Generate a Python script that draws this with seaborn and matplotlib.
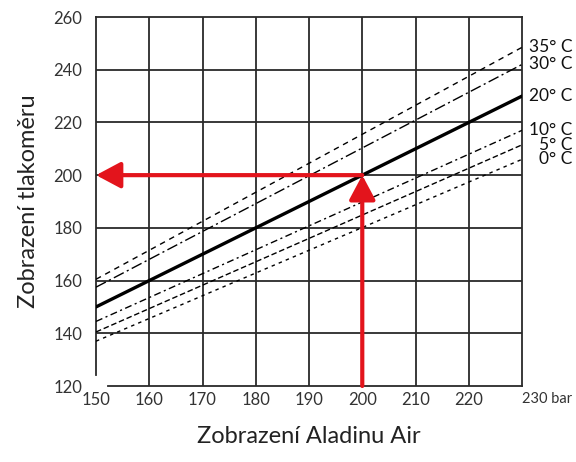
import numpy as np
import pandas as pd
import matplotlib
matplotlib.use("Agg")
import matplotlib.pyplot as plt
import seaborn as sns

# values
aladin = [150, 230]                      # x ends of each line (bar)
temps = ["35° C", "30° C", "20° C", "10° C", "5° C", "0° C"]
gauge_start = [160.5, 157.5, 150, 144.5, 140.5, 137]   # gauge reading at 150 bar
gauge_end = [248.5, 242, 230, 217, 211.5, 206]        # gauge reading at 230 bar
x_ticks = [150, 160, 170, 180, 190, 200, 210, 220, 230]
x_labels = ["150", "160", "170", "180", "190", "200", "210", "220", "230 bar"]
y_ticks = [120, 140, 160, 180, 200, 220, 240, 260]
example_x = 200     # Aladin reading in the red example
example_y = 200     # resulting gauge reading

sns.set_style("white")
plt.rcParams['font.family'] = ['Lato', 'DejaVu Sans']

rows = []
for t, a, b in zip(temps, gauge_start, gauge_end):
    rows.append({'temp': t, 'aladin': aladin[0], 'gauge': a})
    rows.append({'temp': t, 'aladin': aladin[1], 'gauge': b})
df = pd.DataFrame(rows)

fig = plt.figure(figsize=(5.76, 4.62), dpi=100)
ax = fig.add_axes([0.1667, 0.1645, 0.7396, 0.7987])

dash_styles = {
    "35° C": (4, 3.5),
    "30° C": (8, 2.5, 1.5, 2.5),
    "20° C": "",
    "10° C": (5, 2.5, 1.5, 2.5),
    "5° C": (4, 2),
    "0° C": (2.5, 3),
}
widths = {t: (2.4 if t == "20° C" else 1.0) for t in temps}

for t in temps:
    sub = df[df['temp'] == t]
    sns.lineplot(data=sub, x='aladin', y='gauge', ax=ax, color='black',
                 linewidth=widths[t], dashes=False, zorder=3)
    line = ax.lines[-1]
    if dash_styles[t]:
        line.set_dashes(dash_styles[t])
    ax.text(1.118, sub['gauge'].iloc[-1], t, transform=ax.get_yaxis_transform(),
            ha='right', va='center', fontsize=12.5, color='#111')

# red example arrows
arrow_style = dict(arrowstyle="-|>,head_length=1.5,head_width=0.8",
                   color='#e3141c', lw=3, mutation_scale=10,
                   shrinkA=0, shrinkB=0)
ax.annotate("", xy=(example_x, example_y), xytext=(example_x, y_ticks[0]),
            arrowprops=arrow_style, zorder=5)
ax.annotate("", xy=(aladin[0], example_y), xytext=(example_x, example_y),
            arrowprops=arrow_style, zorder=5)

ax.set_xlim(x_ticks[0], x_ticks[-1])
ax.set_ylim(y_ticks[0], y_ticks[-1])
ax.set_xticks(x_ticks)
ax.set_xticklabels(x_labels)
ax.set_yticks(y_ticks)

ax.grid(True, color='#2a2a2a', linewidth=1.3)
ax.set_axisbelow(True)
for gl in (ax.xaxis.get_gridlines()[0], ax.xaxis.get_gridlines()[-1],
           ax.yaxis.get_gridlines()[0], ax.yaxis.get_gridlines()[-1]):
    gl.set_visible(False)

for s in ax.spines.values():
    s.set_color('#2a2a2a')
    s.set_linewidth(1.3)
ax.spines['left'].set_bounds(124, 260)
ax.spines['bottom'].set_bounds(152.2, 230)

ax.tick_params(axis='both', length=0, labelsize=12, colors='#333')
ax.tick_params(axis='x', pad=4)
ax.tick_params(axis='y', pad=10)

last = ax.get_xticklabels()[-1]
last.set_horizontalalignment('left')
last.set_fontsize(10.5)

ax.set_xlabel("Zobrazení Aladinu Air", fontsize=17, color='#222', labelpad=13)
ax.set_ylabel("Zobrazení tlakoměru", fontsize=17, color='#222', labelpad=10)

fig.savefig("out.png", dpi=100)
